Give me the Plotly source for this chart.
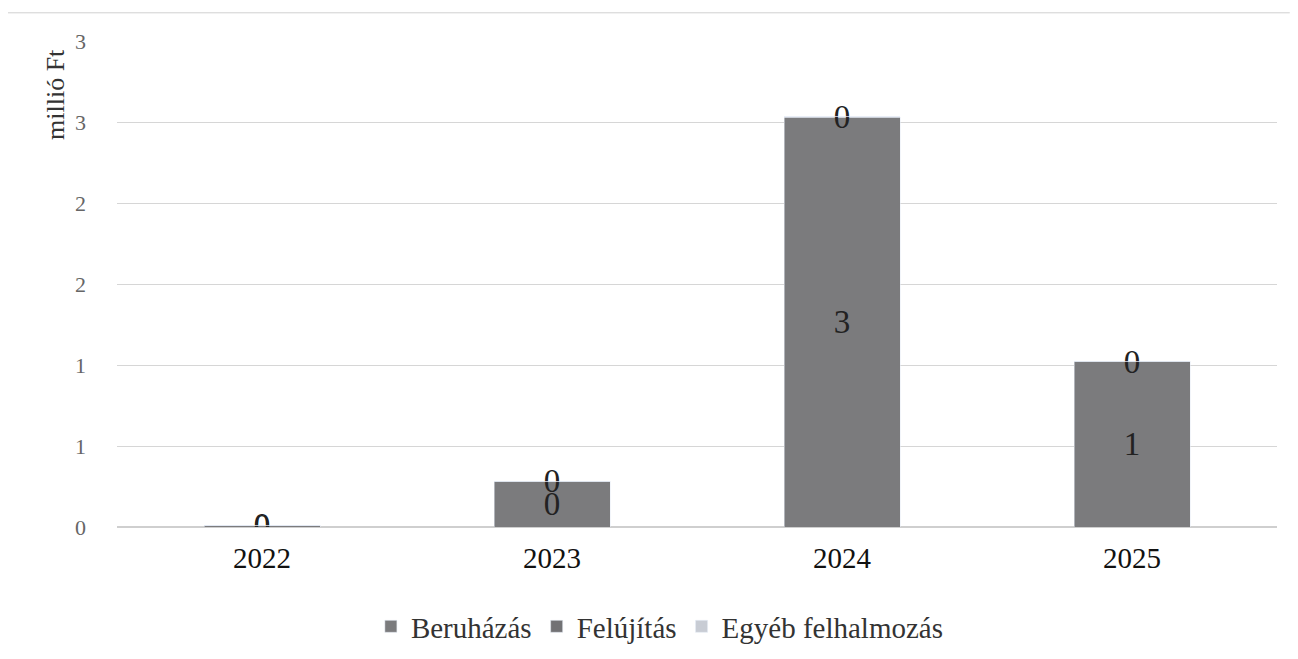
import plotly.graph_objects as go

years = ["2022", "2023", "2024", "2025"]
beruhazas = [0.01, 0.28, 2.53, 1.02]
felujitas = [0.002, 0.003, 0.003, 0.003]
egyeb = [0.0, 0.0, 0.0, 0.0]

tick_vals = [0, 0.5, 1, 1.5, 2, 2.5, 3]
tick_text = ["0", "1", "1", "2", "2", "3", "3"]

serif = "Liberation Serif"
label_font = dict(family=serif, size=33, color="#222222")

fig = go.Figure()
fig.add_trace(go.Bar(x=years, y=beruhazas, name="Beruházás", marker_color="#7b7b7d",
                     texttemplate="%{y:.0f}", textposition="inside", insidetextanchor="middle",
                     textangle=0, textfont=label_font))
fig.add_trace(go.Bar(x=years, y=felujitas, name="Felújítás", marker_color="#727275",
                     texttemplate="%{y:.0f}", textposition="inside", insidetextanchor="middle",
                     textangle=0, textfont=label_font))
fig.add_trace(go.Bar(x=years, y=egyeb, name="Egyéb felhalmozás", marker_color="#c8ccd4"))

# page body adds 8px offset, so the figure is sized a little smaller
fig.update_layout(
    barmode="stack",
    bargap=0.6,
    width=1290, height=651,
    margin=dict(l=109, r=21, t=33, b=132, autoexpand=False),
    plot_bgcolor="white", paper_bgcolor="white",
    font=dict(family=serif, color="#333333"),
    uniformtext=dict(mode="show", minsize=33),
    showlegend=True,
    legend=dict(orientation="h", x=0.468, xanchor="center", yref="container", y=0.05, yanchor="middle",
                font=dict(family=serif, size=29, color="#333333"), traceorder="normal"),
    xaxis=dict(showgrid=False, showline=False, ticks="", ticklabelstandoff=11,
               tickfont=dict(family=serif, size=29, color="#111111")),
    yaxis=dict(range=[0, 3], tickvals=tick_vals, ticktext=tick_text, showgrid=True,
               gridcolor="#d6d6d6", gridwidth=1, zeroline=True, zerolinecolor="#cfcfcf",
               ticklabelstandoff=30, tickfont=dict(family=serif, size=22, color="#666666")),
    annotations=[dict(text="millió Ft", xref="paper", yref="paper", x=-0.053, y=0.89,
                      xanchor="center", yanchor="middle",
                      textangle=-90, showarrow=False, font=dict(family=serif, size=26, color="#333333"))],
    shapes=[dict(type="line", xref="paper", yref="paper", x0=-0.1, x1=1.011, y0=1.058, y1=1.058,
                 line=dict(color="#d0d0d0", width=1))],
)

fig.write_html("out.html")
